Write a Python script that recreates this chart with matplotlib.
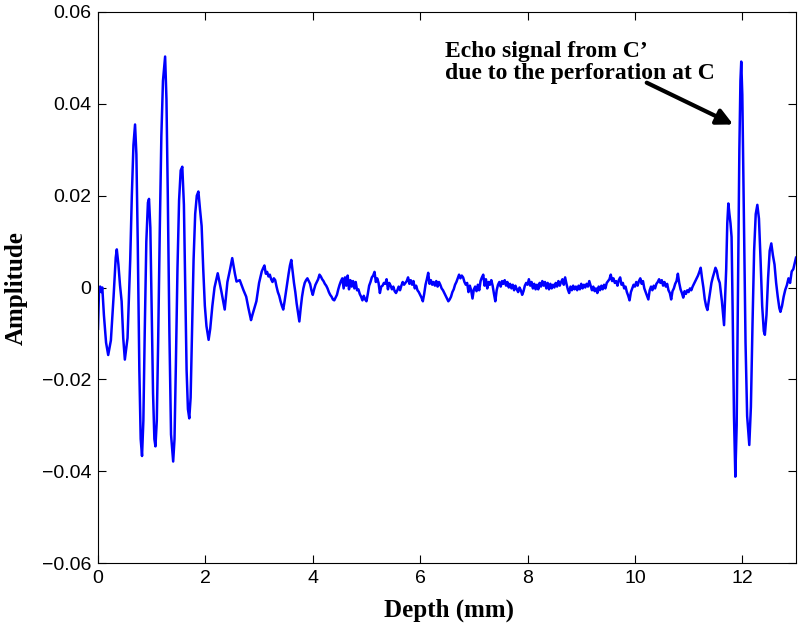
import matplotlib
matplotlib.use("Agg")
import matplotlib.pyplot as plt
import numpy as np

# ---- data ----
# first echo burst (depth in mm, amplitude)
depth_burst1 = [0.00, 0.02, 0.04, 0.06, 0.08, 0.11, 0.15, 0.19, 0.24, 0.29, 0.33, 0.35, 0.38, 0.41,
                0.44, 0.47, 0.50, 0.55, 0.60, 0.63, 0.66, 0.69, 0.715, 0.74, 0.77, 0.795, 0.82, 0.845,
                0.87, 0.90, 0.93, 0.95, 0.975, 1.00, 1.025, 1.05, 1.07, 1.095, 1.12, 1.15, 1.18, 1.21,
                1.25, 1.275, 1.30, 1.33, 1.36, 1.40, 1.425, 1.45, 1.48, 1.51, 1.54, 1.57, 1.60, 1.625,
                1.65, 1.675, 1.70, 1.725, 1.75, 1.78, 1.81, 1.84, 1.87, 1.90, 1.93, 1.96, 1.99, 2.02,
                2.06, 2.09, 2.13, 2.17, 2.23, 2.30, 2.36, 2.41, 2.46, 2.50, 2.55, 2.58, 2.64, 2.71,
                2.76, 2.80, 2.85]
amp_burst1 = [-0.0090, 0.0000, 0.0002, -0.0010, 0.0000, -0.0060, -0.0120, -0.0147, -0.0115, -0.0020,
              0.0065, 0.0083, 0.0050, 0.0005, -0.0030, -0.0110, -0.0157, -0.0110, 0.0060, 0.0200,
              0.0310, 0.0355, 0.0290, 0.0100, -0.0180, -0.0330, -0.0367, -0.0290, -0.0100, 0.0100,
              0.0185, 0.0193, 0.0130, -0.0050, -0.0230, -0.0330, -0.0346, -0.0290, -0.0120, 0.0120,
              0.0330, 0.0450, 0.0503, 0.0410, 0.0200, -0.0100, -0.0320, -0.0379, -0.0330, -0.0170,
              0.0040, 0.0190, 0.0255, 0.0263, 0.0180, 0.0000, -0.0180, -0.0265, -0.0285, -0.0240,
              -0.0100, 0.0060, 0.0160, 0.0200, 0.0209, 0.0170, 0.0134, 0.0040, -0.0040, -0.0084,
              -0.0114, -0.0090, -0.0040, 0.0000, 0.0031, -0.0010, -0.0048, 0.0012, 0.0040, 0.0064,
              0.0030, 0.0013, 0.0016, -0.0006, -0.0020, -0.0044, -0.0071]

# middle noisy stretch, sampled every 0.025 mm from 2.875 mm (amplitude in units of 1e-4)
mid_start = 2.875
mid_step = 0.025
amp_mid_e4 = [
    -60, -50, -40, -30, -10,
    10, 22, 35, 42, 48, 30, 34, 24, 28, 18,
    12, 20, 16, 2, -10, -18, -30, -40, -48, -30,
    -10, 10, 30, 48, 60, 35, 10, -10, -35, -55,
    -74, -45, -20, -2, 10, 16, 20, 14, 8, -6,
    -16, -4, 6, 12, 18, 28, 24, 18, 14, 8,
    4, -2, -10, -16, -20, -26, -28, -22, -16, -4,
    6, 14, 20, -2, 22, 4, 26, -4, 16, 2,
    14, -2, 12, -6, -4, -14, -20, -28, -18, -26,
    -30, -14, 4, 12, 22, 26, 34, 12, 20, 10,
    -12, 2, 4, 10, 8, 18, -4, 10, 4, -4,
    2, -8, -12, -6, 2, -6, 4, 12, 6, 10,
    14, 22, 8, 16, 6, 14, -2, 4, -6, -10,
    -16, -22, -30, -14, 6, 18, 32, 8, 16, 6,
    12, 4, 14, 2, 12, 6, -2, -6, -12, -18,
    -24, -30, -26, -20, -10, -4, 6, 12, 20, 28,
    20, 26, 22, 12, 6, 10, -10, 4, -6, -24,
    -4, 2, -8, 6, -6, 14, 22, 28, 4, 18,
    -2, 12, 6, 16, 4, -14, -30, -6, 6, 12,
    2, 14, 8, 16, 4, 12, 0, 8, -2, 6,
    -6, 4, -4, -10, 0, -6, -16, -8, 4, 10,
    6, 18, 4, 12, -2, 8, -4, 6, -4, 10,
    2, 14, 4, 12, -2, 10, -4, 8, -2, 6,
    0, 10, 2, 14, 4, 12, 18, 6, 22, 8,
    -4, -12, 2, -6, 4, -4, 2, -6, 4, -4,
    8, -2, 6, 0, 8, 2, 14, 4, -6, 2,
    -8, -2, -12, 2, -6, 4, -4, 6, -2, 10,
    14, 18, 28, 14, 20, 10, 14, 4, 16, 22,
    6, 10, -2, 2, -10, -18, -28, -10, -2, 6,
    2, 12, 4, 14, 20, 8, 14, -2, -10, -18,
    -26, -6, 2, -6, 4, -2, 8, 12, 18, 10,
    16, 4, 12, 2, 8, -6, -12, -26, -8, -2,
    8, 14, 30, 10, -4, -12, -22, -8, -14, -6,
    -10, -2, -6, 2, 8, 14, 20, 26, 34, 43,
    20, 0, -25, -40, -49, -30, -10, 10, 22, 32,
    43, 36, 20,
]

# second echo burst (from C')
depth_burst2 = [11.58, 11.62, 11.66, 11.70, 11.72, 11.74, 11.76, 11.78, 11.80, 11.82, 11.845, 11.87,
                11.895, 11.92, 11.945, 11.965, 11.98, 12.00, 12.03, 12.06, 12.09, 12.13, 12.16, 12.19,
                12.22, 12.25, 12.28, 12.31, 12.34, 12.37, 12.40, 12.42, 12.45, 12.48, 12.51, 12.54,
                12.57, 12.60, 12.63, 12.66, 12.69, 12.71, 12.74, 12.77, 12.80, 12.83, 12.86, 12.89,
                12.92, 12.95, 12.98, 13.00]
amp_burst2 = [0.0010, -0.0030, -0.0082, 0.0040, 0.0140, 0.0183, 0.0160, 0.0140, 0.0110, -0.0050,
              -0.0280, -0.0412, -0.0300, 0.0000, 0.0300, 0.0450, 0.0492, 0.0420, 0.0150, -0.0120,
              -0.0280, -0.0343, -0.0260, -0.0080, 0.0080, 0.0160, 0.0180, 0.0150, 0.0060, -0.0040,
              -0.0095, -0.0103, -0.0060, 0.0020, 0.0080, 0.0096, 0.0070, 0.0050, 0.0010, -0.0020,
              -0.0045, -0.0053, -0.0040, -0.0020, -0.0005, 0.0005, 0.0020, 0.0010, 0.0035, 0.0040,
              0.0055, 0.0065]

x_ticks = [0, 2, 4, 6, 8, 10, 12]
y_ticks = [-0.06, -0.04, -0.02, 0, 0.02, 0.04, 0.06]
y_tick_labels = ["\u22120.06", "\u22120.04", "\u22120.02", "0", "0.02", "0.04", "0.06"]
annot_lines = ["Echo signal from C\u2019", "due to the perforation at C"]

depth_mid = mid_start + mid_step * np.arange(len(amp_mid_e4))
amp_mid = np.array(amp_mid_e4) * 1e-4

depth = np.concatenate([depth_burst1, depth_mid, depth_burst2])
amp = np.concatenate([amp_burst1, amp_mid, amp_burst2])

# ---- figure ----
fig = plt.figure(figsize=(8, 6.25), dpi=100)
ax = fig.add_axes([0.1225, 0.0992, 0.8725, 0.8816])
ax.plot(depth, amp, color="#0000FF", lw=1.8)

ax.set_xlim(0, 13)
ax.set_ylim(-0.06, 0.06)
ax.set_xticks(x_ticks)
ax.set_xticklabels([str(t) for t in x_ticks])
ax.set_yticks(y_ticks)
ax.set_yticklabels(y_tick_labels)
ax.tick_params(direction="in", length=6, width=0.8, top=True, right=True,
               labelsize=14, pad=5)
for lab in ax.get_xticklabels() + ax.get_yticklabels():
    lab.set_fontfamily("Liberation Sans")
for s in ax.spines.values():
    s.set_linewidth(0.8)

fig.text(449 / 800, 1 - 617 / 625, "Depth (mm)", fontfamily="Liberation Serif",
         fontweight="bold", fontsize=18, ha="center", va="baseline")
fig.text(16 / 800, 1 - 288 / 625, "Amplitude", fontfamily="Liberation Serif",
         fontweight="bold", fontsize=18, ha="center", va="center", rotation=90)

ax.text(6.46, 0.0501, annot_lines[0], fontfamily="Liberation Serif", fontweight="bold",
        fontsize=17, ha="left", va="baseline")
ax.text(6.46, 0.0453, annot_lines[1], fontfamily="Liberation Serif", fontweight="bold",
        fontsize=17, ha="left", va="baseline")
ax.annotate("", xy=(11.83, 0.0355), xytext=(10.22, 0.0446),
            arrowprops=dict(arrowstyle="-|>", lw=3, color="black", mutation_scale=24,
                            shrinkA=0, shrinkB=0))

fig.savefig("out.png", dpi=100)
